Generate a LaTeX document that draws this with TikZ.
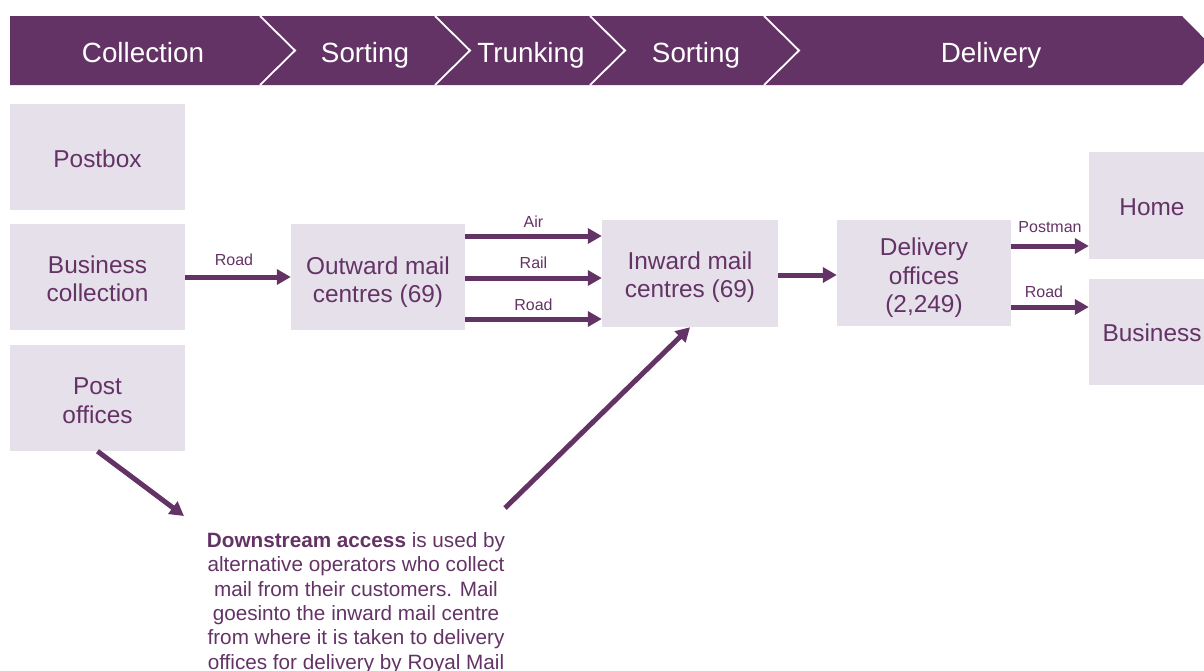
\documentclass[tikz,border=0pt]{standalone}
\usepackage{fontspec}
\setmainfont{Liberation Sans}
\usetikzlibrary{arrows.meta}
\definecolor{rmpurple}{RGB}{100,51,102}
\definecolor{rmbox}{RGB}{230,224,234}
\begin{document}
\begin{tikzpicture}[x=1pt,y=-1pt,
  box/.style={fill=rmbox, draw=none, inner sep=0pt, minimum width=175pt, minimum height=106pt},
  boxtext/.style={text=rmpurple, align=center, inner sep=0pt,
    font=\fontsize{24.4}{28.5}\selectfont},
  arr/.style={draw=rmpurple, line width=5pt, -{Triangle[length=14pt,width=15pt]}},
  lbl/.style={text=rmpurple, font=\fontsize{16}{19}\selectfont, inner sep=0pt},
  hdr/.style={text=white, font=\fontsize{27.8}{30}\selectfont, inner sep=0pt, anchor=base},
]
\useasboundingbox (0,0) rectangle (1204,670);
\clip (0,0) rectangle (1204,670);

% header band
\fill[rmpurple] (10,16) -- (1182,16) -- (1216,50.5) -- (1182,85) -- (10,85) -- cycle;
\foreach \sx in {260,435,590,764}{
  \draw[white, line width=1.8pt] (\sx,16) -- (\sx+35,50.5) -- (\sx,85);
}
\node[hdr] (h1) at (143,62) {Collection};
\node[hdr] (h2) at (365,62) {Sorting};
\node[hdr] (h3) at (531,62) {Trunking};
\node[hdr] (h4) at (696,62) {Sorting};
\node[hdr] (h5) at (991,62) {Delivery};

% boxes
\node[box, label={[boxtext, yshift=-2pt]center:{Postbox}}] (pb) at (97.5,157) {};
\node[box, label={[boxtext, yshift=-2pt]center:{Business\\collection}}] (bc) at (97.5,277) {};
\node[box, label={[boxtext, yshift=-2.5pt]center:{Post\\offices}}] (po) at (97.5,398) {};
\node[box, minimum width=174pt, label={[boxtext, yshift=-5pt]center:{Outward mail\\centres (69)}}] (out) at (378,277) {};
\node[box, minimum width=176pt, minimum height=107pt, label={[boxtext, yshift=-3.5pt]center:{Inward mail\\centres (69)}}] (inw) at (690,273.5) {};
\node[box, minimum width=174pt, label={[boxtext, yshift=-5pt]center:{Delivery\\offices\\(2,249)}}] (del) at (924,273) {};
\node[box, minimum width=126pt, minimum height=107pt, label={[boxtext, yshift=-2pt]center:{Home}}] (home) at (1152,205.5) {};
\node[box, minimum width=126pt, label={[boxtext, yshift=-1pt]center:{Business}}] (bus) at (1152,332) {};

% arrows
\draw[arr] (bc.east |- 0,277) -- node[lbl, yshift=17pt, xshift=-4pt] {Road} (out.west |- 0,277);
\draw[arr] (out.east |- 0,236) -- node[lbl, yshift=14pt] {Air} (inw.west |- 0,236);
\draw[arr] (out.east |- 0,278) -- node[lbl, yshift=15pt] {Rail} (inw.west |- 0,278);
\draw[arr] (out.east |- 0,319) -- node[lbl, yshift=14pt] {Road} (inw.west |- 0,319);
\draw[arr] (inw.east |- 0,275) -- (del.west |- 0,275);
\draw[arr] (del.east |- 0,246) -- node[lbl, yshift=19pt] {Postman} (home.west |- 0,246);
\draw[arr] (del.east |- 0,307) -- node[lbl, yshift=15pt, xshift=-6pt] {Road} (bus.west |- 0,307);

\coordinate (dsa) at (184,516);
\coordinate (dsb) at (505,508);
\draw[arr] (po.south) -- (dsa);
\draw[arr] (dsb) -- (inw.south);

% note
\node[text=rmpurple, align=center, inner sep=0pt, anchor=north,
  font=\fontsize{20.7}{24.4}\selectfont] (note) at (356,532)
  {\textbf{Downstream access} is used by\\
   alternative operators who collect\\
   mail from their customers. Mail\\
   goesinto the inward mail centre\\
   from where it is taken to delivery\\
   offices for delivery by Royal Mail};
\end{tikzpicture}
\end{document}
